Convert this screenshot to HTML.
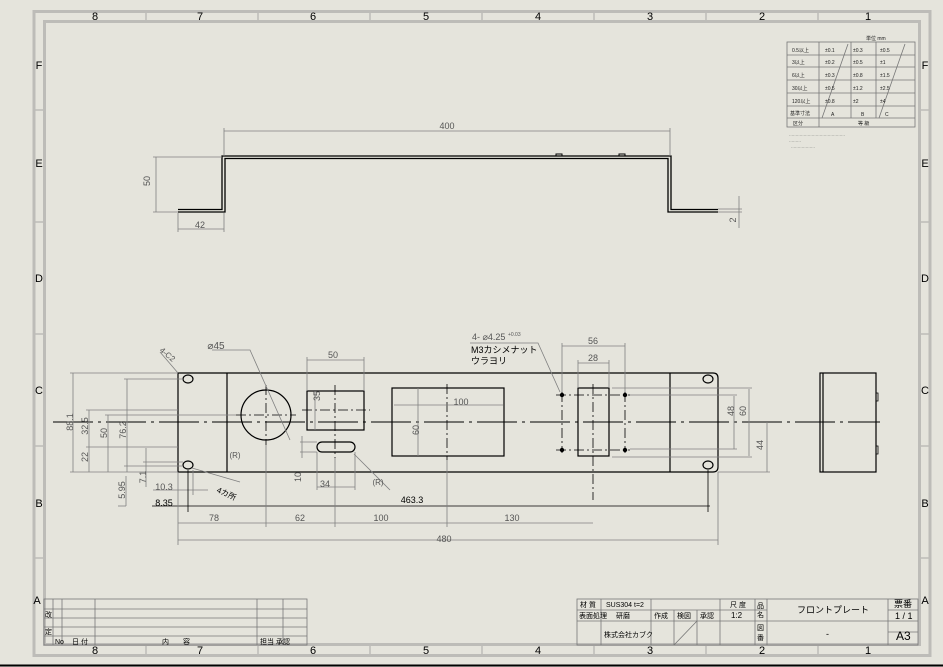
<!DOCTYPE html>
<html><head><meta charset="utf-8"><style>
html,body{margin:0;padding:0;background:#e5e4dc;}
svg{display:block;}
text{font-family:"Liberation Sans","Noto Sans CJK JP",sans-serif;}
</style></head><body>
<svg width="943" height="667" viewBox="0 0 943 667" xmlns="http://www.w3.org/2000/svg">
<rect width="943" height="667" fill="#e5e4dc"/>
<!-- frame -->
<g fill="none" stroke="#bdbcb8" stroke-width="3">
<rect x="34" y="11.5" width="896" height="644"/>
<rect x="44.5" y="21.5" width="875" height="623"/>
</g>
<line x1="0" y1="665.5" x2="943" y2="665.5" stroke="#000" stroke-width="2"/>
<g stroke="#bdbcb8" stroke-width="1.5">
<line x1="146" y1="11" x2="146" y2="21"/><line x1="258" y1="11" x2="258" y2="21"/><line x1="370" y1="11" x2="370" y2="21"/><line x1="482" y1="11" x2="482" y2="21"/><line x1="594" y1="11" x2="594" y2="21"/><line x1="706" y1="11" x2="706" y2="21"/><line x1="818" y1="11" x2="818" y2="21"/>
<line x1="146" y1="645" x2="146" y2="655"/><line x1="258" y1="645" x2="258" y2="655"/><line x1="370" y1="645" x2="370" y2="655"/><line x1="482" y1="645" x2="482" y2="655"/><line x1="594" y1="645" x2="594" y2="655"/><line x1="706" y1="645" x2="706" y2="655"/><line x1="818" y1="645" x2="818" y2="655"/>
<line x1="34" y1="110" x2="44" y2="110"/><line x1="34" y1="222" x2="44" y2="222"/><line x1="34" y1="334" x2="44" y2="334"/><line x1="34" y1="446" x2="44" y2="446"/><line x1="34" y1="558" x2="44" y2="558"/>
<line x1="920" y1="110" x2="930" y2="110"/><line x1="920" y1="222" x2="930" y2="222"/><line x1="920" y1="334" x2="930" y2="334"/><line x1="920" y1="446" x2="930" y2="446"/><line x1="920" y1="558" x2="930" y2="558"/>
</g>
<g font-size="11" fill="#000" text-anchor="middle">
<text x="95" y="20">8</text><text x="200" y="20">7</text><text x="313" y="20">6</text><text x="426" y="20">5</text><text x="538" y="20">4</text><text x="650" y="20">3</text><text x="762" y="20">2</text><text x="868" y="20">1</text>
<text x="95" y="654">8</text><text x="200" y="654">7</text><text x="313" y="654">6</text><text x="426" y="654">5</text><text x="538" y="654">4</text><text x="650" y="654">3</text><text x="762" y="654">2</text><text x="868" y="654">1</text>
<text x="39" y="69">F</text><text x="39" y="167">E</text><text x="39" y="282">D</text><text x="39" y="394">C</text><text x="39" y="507">B</text><text x="37" y="604">A</text>
<text x="925" y="69">F</text><text x="925" y="167">E</text><text x="925" y="282">D</text><text x="925" y="394">C</text><text x="925" y="507">B</text><text x="925" y="604">A</text>
</g>

<!-- top view -->
<g fill="none" stroke="#000" stroke-width="1.3">
<path d="M178 209.5 H222 V156 H671 V209.5 H718"/>
<path d="M178 212 H225 V158.5 H668 V212 H718"/>
<path d="M556 156 v-2 h6 v2 M619 156 v-2 h6 v2" stroke-width="1"/>
</g>
<g stroke="#808080" stroke-width="0.8" fill="none">
<line x1="224" y1="131" x2="670" y2="131"/><line x1="224" y1="128" x2="224" y2="156"/><line x1="670" y1="128" x2="670" y2="156"/>
<line x1="156" y1="157" x2="156" y2="212"/><line x1="153" y1="157" x2="222" y2="157"/><line x1="153" y1="212" x2="178" y2="212"/>
<line x1="178" y1="229" x2="224" y2="229"/><line x1="178" y1="213" x2="178" y2="232"/><line x1="224" y1="213" x2="224" y2="232"/>
<line x1="739" y1="196" x2="739" y2="228"/><line x1="718" y1="209" x2="742" y2="209"/><line x1="718" y1="212" x2="742" y2="212"/>
</g>
<g font-size="9" fill="#555" text-anchor="middle">
<text x="447" y="129">400</text>
<text x="154" y="185" transform="rotate(-90 150 185)">50</text>
<text x="200" y="228">42</text>
<text x="738" y="222" transform="rotate(-90 736 222)">2</text>
</g>

<!-- front view -->
<line x1="53" y1="422" x2="880" y2="422" stroke="#000" stroke-width="1" stroke-dasharray="40,5,3,5"/>
<g fill="none" stroke="#000" stroke-width="1.2">
<path d="M178 373 H713 Q718 373 718 378 V467 Q718 472 713 472 H178 Z"/>
<line x1="227" y1="373" x2="227" y2="472"/>
<line x1="670" y1="373" x2="670" y2="472"/>
<circle cx="266" cy="415" r="25"/>
<rect x="307" y="391" width="57" height="39"/>
<rect x="317" y="442" width="38" height="10" rx="5"/>
<rect x="392" y="388" width="112" height="68"/>
<rect x="578" y="388" width="31" height="68"/>
<ellipse cx="188" cy="379" rx="5" ry="4"/><ellipse cx="188" cy="465" rx="5" ry="4"/>
<ellipse cx="708" cy="379" rx="5" ry="4"/><ellipse cx="708" cy="465" rx="5" ry="4"/>
<rect x="820" y="373" width="56" height="99"/>
<line x1="823" y1="373" x2="823" y2="472"/>
<path d="M876 393 h2 v8 h-2 M876 446 h2 v8 h-2" stroke-width="0.8"/>
</g>
<g stroke="#000" stroke-width="0.8" stroke-dasharray="10,3,2,3" fill="none">
<line x1="266" y1="385" x2="266" y2="445"/><line x1="236" y1="415" x2="296" y2="415"/>
<line x1="335" y1="385" x2="335" y2="458"/><line x1="302" y1="410" x2="370" y2="410"/>
<line x1="447" y1="384" x2="447" y2="460"/>
<line x1="593" y1="384" x2="593" y2="500"/>
<line x1="562" y1="392" x2="562" y2="453"/><line x1="625" y1="392" x2="625" y2="453"/>
<line x1="556" y1="395" x2="630" y2="395"/><line x1="556" y1="450" x2="630" y2="450"/>
</g>
<g fill="#000"><circle cx="562" cy="395" r="2.2"/><circle cx="562" cy="450" r="2.2"/><circle cx="625" cy="395" r="2.2"/><circle cx="625" cy="450" r="2.2"/></g>

<!-- dimensions -->
<g stroke="#808080" stroke-width="0.8" fill="none">
<line x1="73" y1="373" x2="73" y2="472"/><line x1="70" y1="373" x2="178" y2="373"/><line x1="70" y1="472" x2="178" y2="472"/>
<line x1="89" y1="410" x2="89" y2="472"/><line x1="86" y1="410" x2="178" y2="410"/><line x1="86" y1="447" x2="178" y2="447"/>
<line x1="108" y1="415" x2="108" y2="472"/><line x1="105" y1="415" x2="236" y2="415"/>
<line x1="127" y1="379" x2="127" y2="472"/><line x1="124" y1="379" x2="183" y2="379"/><line x1="124" y1="466" x2="183" y2="466"/>
<line x1="146" y1="448" x2="146" y2="487"/><line x1="143" y1="462" x2="183" y2="462"/>
<line x1="126" y1="476" x2="126" y2="506"/><line x1="118" y1="506" x2="126" y2="506"/>
<line x1="153" y1="490" x2="208" y2="490"/><line x1="193" y1="470" x2="193" y2="495"/>
<line x1="152" y1="506" x2="710" y2="506" stroke="#000"/><line x1="188" y1="470" x2="188" y2="512" stroke="#000"/><line x1="708" y1="470" x2="708" y2="512" stroke="#000"/>
<line x1="178" y1="523" x2="593" y2="523"/>
<line x1="178" y1="472" x2="178" y2="545"/><line x1="266" y1="445" x2="266" y2="527"/><line x1="335" y1="458" x2="335" y2="527"/><line x1="447" y1="460" x2="447" y2="527"/>
<line x1="178" y1="540" x2="718" y2="540"/><line x1="718" y1="472" x2="718" y2="545"/>
<line x1="307" y1="360" x2="364" y2="360"/><line x1="307" y1="357" x2="307" y2="391"/><line x1="364" y1="357" x2="364" y2="391"/>
<line x1="315" y1="391" x2="315" y2="430"/>
<line x1="302" y1="436" x2="302" y2="458"/><line x1="300" y1="442" x2="317" y2="442"/><line x1="300" y1="452" x2="317" y2="452"/>
<line x1="317" y1="452" x2="317" y2="490"/><line x1="355" y1="452" x2="355" y2="490"/><line x1="317" y1="487" x2="355" y2="487"/>
<line x1="394" y1="405" x2="503" y2="405"/><line x1="418" y1="388" x2="418" y2="456"/>
<line x1="562" y1="346" x2="625" y2="346"/><line x1="562" y1="343" x2="562" y2="392"/><line x1="625" y1="343" x2="625" y2="392"/>
<line x1="578" y1="363" x2="609" y2="363"/><line x1="578" y1="360" x2="578" y2="388"/><line x1="609" y1="360" x2="609" y2="388"/>
<line x1="734" y1="396" x2="734" y2="449"/><line x1="630" y1="395" x2="737" y2="395"/><line x1="630" y1="449" x2="737" y2="449"/>
<line x1="749" y1="389" x2="749" y2="456"/><line x1="612" y1="388" x2="752" y2="388"/><line x1="612" y1="457" x2="752" y2="457"/>
<line x1="767" y1="422" x2="767" y2="472"/><line x1="718" y1="472" x2="770" y2="472"/>
<path d="M212 350 H250 L290 440"/>
<path d="M470 343 H538 L560 392"/>
<path d="M160 352 L178 373"/>
<path d="M192 468 L240 482"/>
<path d="M354 454 L390 490"/>
</g>
<g font-size="9" fill="#555" text-anchor="middle">
<text x="70" y="425" transform="rotate(-90 70 422)">88.1</text>
<text x="87" y="431" transform="rotate(-90 85 428)">32.5</text>
<text x="87" y="462" transform="rotate(-90 85 459)">22</text>
<text x="106" y="438" transform="rotate(-90 104 435)">50</text>
<text x="125" y="435" transform="rotate(-90 123 432)">76.2</text>
<text x="145" y="482" transform="rotate(-90 143 479)">7.1</text>
<text x="124" y="495" transform="rotate(-90 122 492)">5.95</text>
<text x="164" y="490">10.3</text>
<text x="164" y="506" fill="#000">8.35</text>
<text x="412" y="503" fill="#000">463.3</text>
<text x="214" y="521">78</text><text x="300" y="521">62</text><text x="381" y="521">100</text><text x="512" y="521">130</text>
<text x="444" y="542">480</text>
<text x="333" y="358">50</text>
<text x="322" y="402" transform="rotate(-90 318 400)">35</text>
<text x="300" y="482" transform="rotate(-90 298 479)">10</text>
<text x="325" y="487">34</text>
<text x="461" y="405">100</text>
<text x="418" y="435" transform="rotate(-90 416 432)">60</text>
<text x="593" y="344">56</text>
<text x="593" y="361">28</text>
<text x="733" y="416" transform="rotate(-90 731 413)">48</text>
<text x="745" y="416" transform="rotate(-90 743 413)">60</text>
<text x="762" y="450" transform="rotate(-90 760 447)">44</text>
<text x="216" y="349" font-size="10">⌀45</text>
<text x="167" y="357" font-size="8" transform="rotate(40 167 355)">4-C2</text>
<text x="235" y="458" font-size="8">(R)</text>
<text x="378" y="485" font-size="8">(R)</text>
</g>
<text x="217" y="492" font-size="8" fill="#000" font-family="Noto Sans CJK JP" transform="rotate(25 217 490)">4カ所</text>
<text x="472" y="340" font-size="9" fill="#555">4- ⌀4.25 <tspan font-size="5" dy="-4">+0.03</tspan></text>
<text x="471" y="353" font-size="9" fill="#000" font-family="Noto Sans CJK JP">M3カシメナット</text>
<text x="471" y="364" font-size="9" fill="#000" font-family="Noto Sans CJK JP">ウラヨリ</text>

<!-- tolerance table -->
<g stroke="#777" stroke-width="0.8" fill="none">
<rect x="787" y="42" width="128" height="85"/>
<line x1="819" y1="42" x2="819" y2="127"/><line x1="851" y1="42" x2="851" y2="118"/><line x1="876" y1="42" x2="876" y2="118"/>
<line x1="787" y1="55" x2="915" y2="55"/><line x1="787" y1="67" x2="915" y2="67"/><line x1="787" y1="80" x2="915" y2="80"/><line x1="787" y1="93" x2="915" y2="93"/><line x1="787" y1="106" x2="915" y2="106"/><line x1="787" y1="118" x2="915" y2="118"/>
<line x1="822" y1="118" x2="848" y2="44"/><line x1="879" y1="118" x2="905" y2="44"/>
</g>
<g font-size="5" fill="#222" font-family="Noto Sans CJK JP">
<text x="866" y="40">単位 mm</text>
<text x="792" y="52">0.5以上</text><text x="792" y="64">3以上</text><text x="792" y="77">6以上</text><text x="792" y="90">30以上</text><text x="792" y="103">120以上</text><text x="790" y="115">基準寸法</text><text x="793" y="125">区分</text>
<text x="825" y="52">±0.1</text><text x="853" y="52">±0.3</text><text x="880" y="52">±0.5</text>
<text x="825" y="64">±0.2</text><text x="853" y="64">±0.5</text><text x="880" y="64">±1</text>
<text x="825" y="77">±0.3</text><text x="853" y="77">±0.8</text><text x="880" y="77">±1.5</text>
<text x="825" y="90">±0.5</text><text x="853" y="90">±1.2</text><text x="880" y="90">±2.5</text>
<text x="825" y="103">±0.8</text><text x="853" y="103">±2</text><text x="880" y="103">±4</text>
<text x="831" y="116">A</text><text x="861" y="116">B</text><text x="885" y="116">C</text>
<text x="858" y="125">等 級</text>
<text x="789" y="136" font-size="4">……………………………………</text>
<text x="789" y="142" font-size="4">………</text>
<text x="791" y="148" font-size="4">………………</text>
</g>

<!-- revision block -->
<g stroke="#777" stroke-width="0.8" fill="none">
<rect x="44" y="599" width="263" height="46"/>
<line x1="53" y1="599" x2="53" y2="645"/><line x1="62" y1="599" x2="62" y2="645"/><line x1="95" y1="599" x2="95" y2="645"/><line x1="257" y1="599" x2="257" y2="645"/><line x1="283" y1="599" x2="283" y2="645"/>
<line x1="44" y1="609" x2="307" y2="609"/><line x1="44" y1="618" x2="307" y2="618"/><line x1="44" y1="627" x2="307" y2="627"/><line x1="44" y1="636" x2="307" y2="636"/>
</g>
<g font-size="7" fill="#000" font-family="Noto Sans CJK JP">
<text x="45" y="617">改</text><text x="45" y="634">定</text><text x="55" y="644">No</text><text x="72" y="644">日 付</text><text x="162" y="644">内　　容</text><text x="260" y="644">担当 承認</text>
</g>

<!-- title block -->
<g stroke="#777" stroke-width="0.8" fill="none">
<rect x="577" y="599" width="341" height="46"/>
<line x1="601" y1="599" x2="601" y2="645"/><line x1="651" y1="599" x2="651" y2="645"/><line x1="674" y1="610" x2="674" y2="645"/><line x1="697" y1="610" x2="697" y2="645"/><line x1="720" y1="599" x2="720" y2="645"/><line x1="755" y1="599" x2="755" y2="645"/><line x1="767" y1="599" x2="767" y2="645"/><line x1="888" y1="599" x2="888" y2="645"/>
<line x1="577" y1="610" x2="767" y2="610"/><line x1="577" y1="621" x2="755" y2="621"/><line x1="755" y1="621" x2="918" y2="621"/><line x1="888" y1="610" x2="918" y2="610"/><line x1="888" y1="632" x2="918" y2="632"/>
<line x1="674" y1="645" x2="697" y2="621"/>
</g>
<g font-size="7" fill="#000" font-family="Noto Sans CJK JP">
<text x="580" y="607">材 質</text><text x="606" y="607">SUS304 t=2</text><text x="730" y="607">尺 度</text>
<text x="579" y="618">表面処理</text><text x="616" y="618">研磨</text><text x="654" y="618">作成</text><text x="677" y="618">検図</text><text x="700" y="618">承認</text><text x="731" y="618" font-size="8">1:2</text>
<text x="604" y="637">株式会社カブク</text>
<text x="757" y="608">品</text><text x="757" y="617">名</text><text x="757" y="630">図</text><text x="757" y="640">番</text>
<text x="797" y="613" font-size="9">フロントプレート</text>
<text x="826" y="637" font-size="9">-</text>
<text x="894" y="607" font-size="9">票番</text><text x="895" y="619" font-size="9">1 / 1</text>
<text x="896" y="640" font-size="12" font-family="Liberation Sans">A3</text>
</g>
</svg>
</body></html>
